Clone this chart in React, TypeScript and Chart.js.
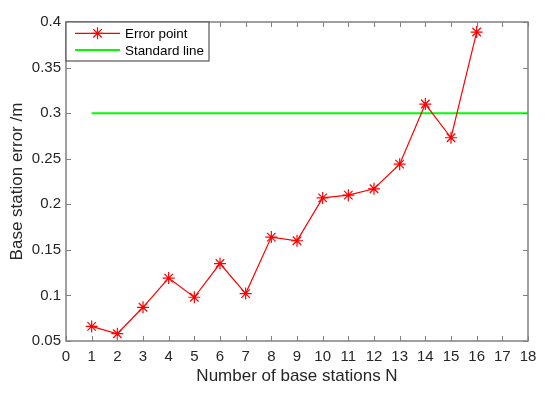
import React, { useEffect, useRef } from "react";
import { Chart, registerables } from "chart.js";

Chart.register(...registerables);

const stations = [1, 2, 3, 4, 5, 6, 7, 8, 9, 10, 11, 12, 13, 14, 15, 16];
const errors = [0.066, 0.058, 0.087, 0.119, 0.098, 0.135, 0.102, 0.164, 0.16, 0.207, 0.21, 0.217, 0.244, 0.31, 0.273, 0.389];
const standardX = [1, 18];
const standardY = [0.3, 0.3];
const xTickValues = [0, 1, 2, 3, 4, 5, 6, 7, 8, 9, 10, 11, 12, 13, 14, 15, 16, 17, 18];
const yTickLabels = ["0.05", "0.1", "0.15", "0.2", "0.25", "0.3", "0.35", "0.4"];
const legendLabels = ["Error point", "Standard line"];

const FONT = "Liberation Sans, Arial, sans-serif";
const AXIS = "#808080";
const TEXT = "#262626";

function drawStar(ctx: CanvasRenderingContext2D, x: number, y: number, r: number) {
  ctx.beginPath();
  for (let i = 0; i < 4; i++) {
    const a = (i * Math.PI) / 4;
    ctx.moveTo(x - r * Math.cos(a), y - r * Math.sin(a));
    ctx.lineTo(x + r * Math.cos(a), y + r * Math.sin(a));
  }
  ctx.stroke();
}

const boxPlugin = {
  id: "matlabBox",
  afterDraw(chart: any) {
    const { ctx, chartArea: a, scales } = chart;
    const xs = scales.x;
    const ys = scales.y;
    ctx.save();
    ctx.strokeStyle = AXIS;
    ctx.lineWidth = 1;
    const tl = 5;
    ctx.beginPath();
    xs.ticks.forEach((t: any) => {
      const px = Math.round(xs.getPixelForValue(t.value)) + 0.5;
      ctx.moveTo(px, a.bottom);
      ctx.lineTo(px, a.bottom - tl);
      ctx.moveTo(px, a.top);
      ctx.lineTo(px, a.top + tl);
    });
    ys.ticks.forEach((t: any) => {
      const py = Math.round(ys.getPixelForValue(t.value)) + 0.5;
      ctx.moveTo(a.left, py);
      ctx.lineTo(a.left + tl, py);
      ctx.moveTo(a.right, py);
      ctx.lineTo(a.right - tl, py);
    });
    ctx.stroke();
    ctx.lineWidth = 1.5;
    ctx.strokeRect(a.left, a.top, a.right - a.left, a.bottom - a.top);

    // legend
    const lx = a.left;
    const ly = a.top;
    const lw = 143;
    const lh = 39;
    ctx.fillStyle = "#ffffff";
    ctx.fillRect(lx, ly, lw, lh);
    ctx.lineWidth = 1.2;
    ctx.strokeStyle = "#555555";
    ctx.strokeRect(lx, ly, lw, lh);
    ctx.font = `13.4px ${FONT}`;
    ctx.fillStyle = "#000000";
    ctx.textBaseline = "middle";
    const rows = [ly + 11.3, ly + 28];
    ctx.strokeStyle = "#ff0000";
    ctx.lineWidth = 1.2;
    ctx.beginPath();
    ctx.moveTo(lx + 9, rows[0]);
    ctx.lineTo(lx + 54, rows[0]);
    ctx.stroke();
    drawStar(ctx, lx + 31.5, rows[0], 6);
    ctx.fillText(legendLabels[0], lx + 59, rows[0] + 1);
    ctx.strokeStyle = "#00ff00";
    ctx.lineWidth = 2;
    ctx.beginPath();
    ctx.moveTo(lx + 9, rows[1]);
    ctx.lineTo(lx + 54, rows[1]);
    ctx.stroke();
    ctx.fillText(legendLabels[1], lx + 59, rows[1] + 1);
    ctx.restore();
  },
};

export default function App() {
  const ref = useRef<HTMLCanvasElement>(null);
  useEffect(() => {
    document.body.style.margin = "0";
    const chart = new Chart(ref.current!, {
      type: "line",
      data: {
        datasets: [
          {
            label: legendLabels[0],
            data: stations.map((s, i) => ({ x: s, y: errors[i] })),
            borderColor: "#ff0000",
            backgroundColor: "#ff0000",
            borderWidth: 1.2,
            pointStyle: "star",
            pointRadius: 6,
            pointBorderWidth: 1.2,
            pointBorderColor: "#ff0000",
            tension: 0,
            clip: false,
          },
          {
            label: legendLabels[1],
            data: standardX.map((s, i) => ({ x: s, y: standardY[i] })),
            borderColor: "#00ff00",
            borderWidth: 2,
            pointRadius: 0,
            tension: 0,
          },
        ],
      },
      options: {
        animation: false,
        responsive: false,
        maintainAspectRatio: false,
        layout: { padding: { top: 22, right: 22, left: 0, bottom: 0 } },
        plugins: { legend: { display: false }, tooltip: { enabled: false } },
        scales: {
          x: {
            type: "linear",
            min: 0,
            max: 18,
            afterBuildTicks: (s: any) => {
              s.ticks = xTickValues.map((v) => ({ value: v }));
            },
            afterFit: (s: any) => {
              s.height = 52;
            },
            grid: { display: false, drawTicks: false },
            border: { display: false },
            ticks: {
              color: TEXT,
              font: { family: FONT, size: 15 },
              padding: 7,
              maxRotation: 0,
              autoSkip: false,
              callback: (v: any) => String(v),
            },
            title: {
              display: true,
              text: "Number of base stations N",
              color: TEXT,
              font: { family: FONT, size: 17 },
              padding: { top: 0, bottom: 6 },
            },
          },
          y: {
            type: "linear",
            min: 0.05,
            max: 0.4,
            afterBuildTicks: (s: any) => {
              s.ticks = yTickLabels.map((l) => ({ value: parseFloat(l) }));
            },
            afterFit: (s: any) => {
              s.width = 66;
            },
            grid: { display: false, drawTicks: false },
            border: { display: false },
            ticks: {
              color: TEXT,
              font: { family: FONT, size: 15 },
              padding: 5,
              autoSkip: false,
              callback: (v: any) => yTickLabels.find((l) => Math.abs(parseFloat(l) - v) < 1e-9) ?? String(v),
            },
            title: {
              display: true,
              text: "Base station error /m",
              color: TEXT,
              font: { family: FONT, size: 17 },
              padding: { top: 7, bottom: 0 },
            },
          },
        },
      },
      plugins: [boxPlugin],
    } as any);
    return () => chart.destroy();
  }, []);
  return (
    <div style={{ width: 550, height: 393, background: "#fff" }}>
      <canvas ref={ref} width={550} height={393} />
    </div>
  );
}
